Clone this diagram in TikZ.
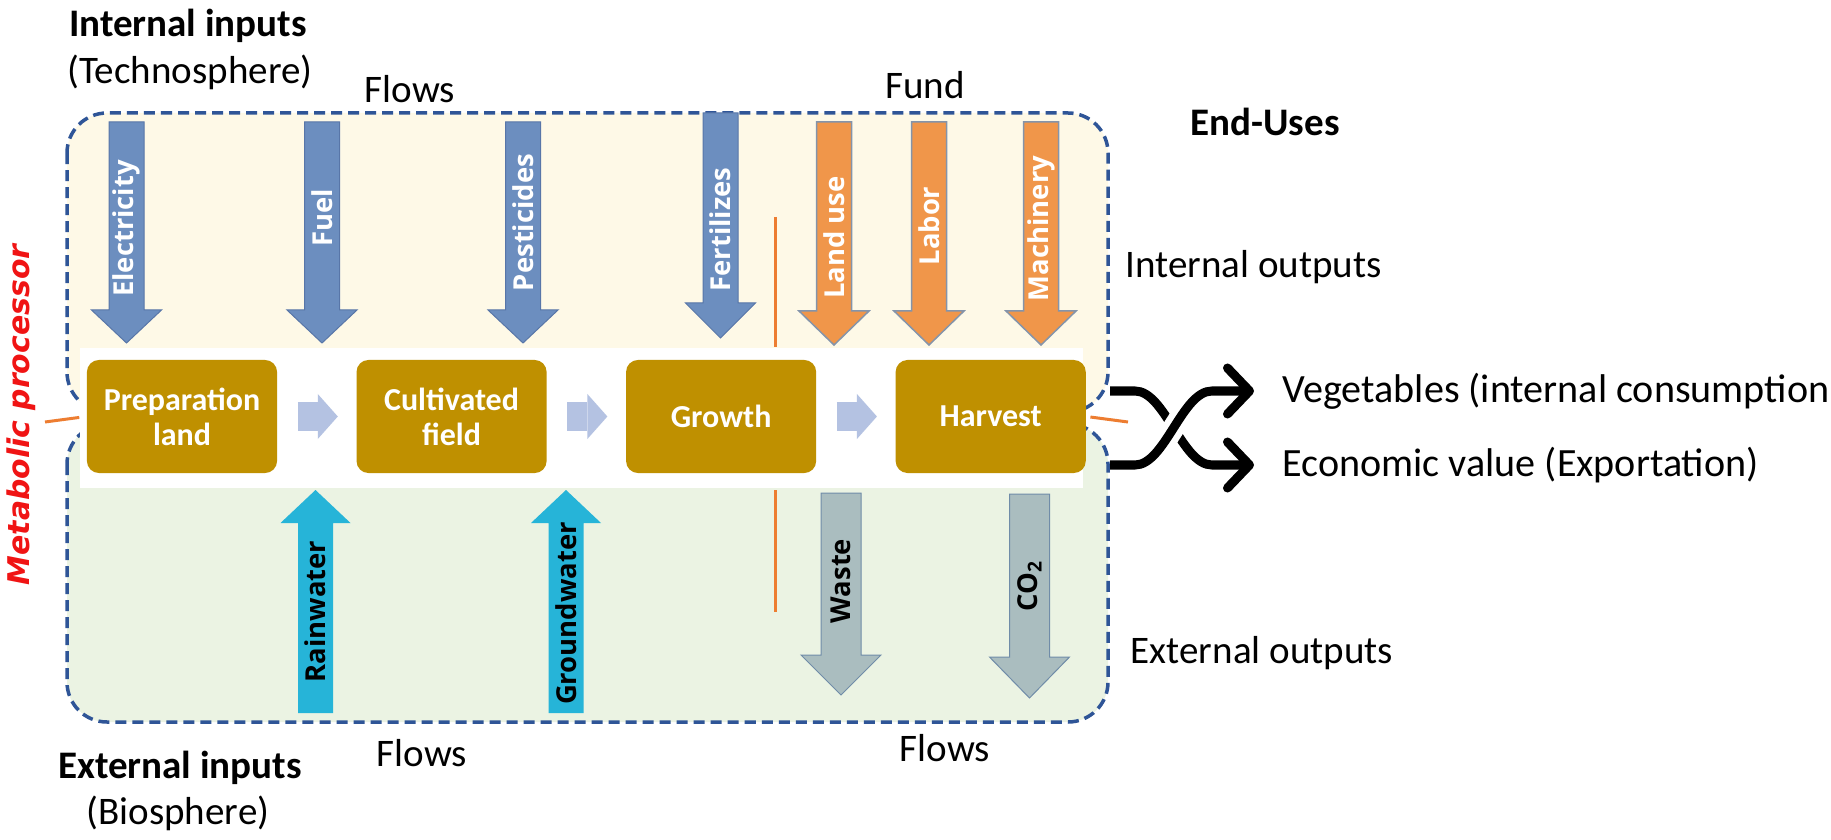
\documentclass[tikz,border=0pt]{standalone}
\usepackage{fontspec}
\setmainfont{Carlito}
\newfontfamily\arrowfont{Open Sans}
\newfontfamily\procfont{DejaVu Sans}
\definecolor{mygold}{RGB}{191,144,0}
\definecolor{mycream}{RGB}{254,249,231}
\definecolor{mylightgreen}{RGB}{235,243,227}
\definecolor{mydash}{RGB}{47,85,151}
\definecolor{myblue}{RGB}{108,142,191}
\definecolor{myblueline}{RGB}{88,118,168}
\definecolor{myorange}{RGB}{240,150,74}
\definecolor{myorangeline}{RGB}{132,148,170}
\definecolor{mycyan}{RGB}{38,180,216}
\definecolor{mygray}{RGB}{170,189,191}
\definecolor{mygrayline}{RGB}{112,140,168}
\definecolor{mystep}{RGB}{180,194,226}
\definecolor{mytick}{RGB}{237,125,49}
\definecolor{myred}{RGB}{240,20,20}
\usetikzlibrary{positioning,chains,arrows.meta}

\begin{document}
\begin{tikzpicture}[x=0.01cm,y=-0.01cm,
        every node/.style={inner sep=0pt},
        procbox/.style={rectangle,rounded corners=0.12cm,fill=mygold,text=white,
            minimum width=1.9cm,minimum height=1.13cm,align=center,
            font=\fontsize{9.1}{10}\selectfont\bfseries},
        lbl/.style={font=\fontsize{11.1}{13}\selectfont},
        lblbold/.style={font=\fontsize{11.1}{13}\selectfont\bfseries},
        uselbl/.style={font=\fontsize{11.4}{13}\selectfont},
        flowtxt/.style={rotate=90,text=white,font=\arrowfont\fontsize{7.8}{9}\selectfont\bfseries},
        border/.style={draw=mydash,line width=0.035cm,dash pattern=on 0.11cm off 0.06cm,rounded corners=0.4cm},
        tick/.style={draw=mytick,line width=0.03cm},
        stepflow/.style={draw=mystep,line width=0.29cm,-{Triangle[length=0.2cm,width=0.45cm,line width=0pt]},
            shorten <=0.2cm,shorten >=0.18cm},
        bluearrow/.style={fill=myblue,draw=myblueline,line width=0.01cm},
        orangearrow/.style={fill=myorange,draw=myorangeline,line width=0.015cm},
        cyanarrow/.style={fill=mycyan},
        grayarrow/.style={fill=mygray,draw=mygrayline,line width=0.01cm},
        enduse/.style={line width=0.09cm,-{Straight Barb[length=0.22cm,width=0.46cm,round]}}
        ]
        \path[use as bounding box,fill=white] (0,0) rectangle (1831,840);

        % the processor: technosphere part and biosphere part
        \draw[border,fill=mycream] (67,113) rectangle (1108,412);
        \draw[border,fill=mylightgreen] (67,424) rectangle (1108,722);
        \fill[white] (80,348) rectangle (1083,488);

        % the stages
        \begin{scope}[start chain=going right,node distance=7.8mm]
        \node[procbox,on chain] (prep) at (182,416.5) {Preparation\\land};
        \node[procbox,on chain] (cult) {Cultivated\\field};
        \node[procbox,on chain] (grow) {Growth};
        \node[procbox,on chain] (harv) {Harvest};
        \end{scope}

        \draw[stepflow] (prep) -- (cult);
        \draw[stepflow] (cult) -- (grow);
        \draw[stepflow] (grow) -- (harv);

        % the borders of the processor
        \coordinate (tickin) at (45,422);
        \coordinate (tickout) at (1128,422);
        \draw[tick,shorten >=0.07cm] (tickin) -- (prep.west);
        \draw[tick,shorten <=0.04cm] (harv.east) -- (tickout);
        \coordinate (fundA) at (775,217);
        \coordinate (fundB) at (775,347);
        \coordinate (fundC) at (775,490);
        \coordinate (fundD) at (775,612);
        \draw[tick] (fundA) -- (fundB);
        \draw[tick] (fundC) -- (fundD);

        % the flows from the technosphere
        \filldraw[bluearrow] (109,122) -- ++(35,0) -- ++(0,188) -- ++(17.5,0) -- ++(-35,33) -- ++(-35,-33) -- ++(17.5,0) -- cycle;
        \filldraw[bluearrow] (304.5,122) -- ++(35,0) -- ++(0,188) -- ++(17.5,0) -- ++(-35,33) -- ++(-35,-33) -- ++(17.5,0) -- cycle;
        \filldraw[bluearrow] (505.5,122) -- ++(35,0) -- ++(0,188) -- ++(17.5,0) -- ++(-35,33) -- ++(-35,-33) -- ++(17.5,0) -- cycle;
        \filldraw[bluearrow] (703,113) -- ++(35,0) -- ++(0,190) -- ++(17.5,0) -- ++(-35,35) -- ++(-35,-35) -- ++(17.5,0) -- cycle;
        \node[flowtxt] (elec) at (126.5,228.5) {Electricity};
        \node[flowtxt] (fuel) at (322,218) {Fuel};
        \node[flowtxt] (pest) at (523,222.5) {Pesticides};
        \node[flowtxt] (fert) at (720.5,229.5) {Fertilizes};

        % the funds
        \filldraw[orangearrow] (816.5,122) -- ++(35,0) -- ++(0,189) -- ++(17.5,0) -- ++(-35,34) -- ++(-35,-34) -- ++(17.5,0) -- cycle;
        \filldraw[orangearrow] (911.5,122) -- ++(35,0) -- ++(0,189) -- ++(17.5,0) -- ++(-35,34) -- ++(-35,-34) -- ++(17.5,0) -- cycle;
        \filldraw[orangearrow] (1023.5,122) -- ++(35,0) -- ++(0,189) -- ++(17.5,0) -- ++(-35,34) -- ++(-35,-34) -- ++(17.5,0) -- cycle;
        \node[flowtxt] (land) at (834,237.5) {Land use};
        \node[flowtxt] (labor) at (929,226) {Labor};
        \node[flowtxt] (mach) at (1041,228.5) {Machinery};

        % the flows from the biosphere
        \fill[cyanarrow] (298,713) -- ++(35,0) -- ++(0,-190) -- ++(17.5,0) -- ++(-35,-33) -- ++(-35,33) -- ++(17.5,0) -- cycle;
        \fill[cyanarrow] (548.5,713) -- ++(35,0) -- ++(0,-190) -- ++(17.5,0) -- ++(-35,-33) -- ++(-35,33) -- ++(17.5,0) -- cycle;
        \node[flowtxt,text=black] (rain) at (315.5,611.5) {Rainwater};
        \node[flowtxt,text=black] (ground) at (566,613.5) {Groundwater};

        % the external outputs
        \filldraw[grayarrow] (821,493) -- ++(40,0) -- ++(0,162) -- ++(20,0) -- ++(-40,40) -- ++(-40,-40) -- ++(20,0) -- cycle;
        \filldraw[grayarrow] (1009.5,494) -- ++(40,0) -- ++(0,163) -- ++(20,0) -- ++(-40,41) -- ++(-40,-41) -- ++(20,0) -- cycle;
        \node[flowtxt,text=black] (waste) at (841,581) {Waste};
        \node[flowtxt,text=black] (co2) at (1029.5,586) {CO\textsubscript{2}};

        % the labels
        \node[rotate=90,text=myred,font=\procfont\bfseries\itshape\fontsize{8.5}{10}\selectfont] (metab) at (21,415) {Metabolic processor};
        \node[lblbold] (intin) at (188,26) {Internal inputs};
        \node[lbl] (techno) at (190,72) {(Technosphere)};
        \node[lbl] (flowin) at (410,89) {Flows};
        \node[lbl] (fund) at (925,85) {Fund};
        \node[lblbold] (enduses) at (1265,122) {End-Uses};
        \node[lbl,anchor=west] (intout) at (1125,267) {Internal outputs};
        \node[lbl,anchor=west] (extout) at (1130,653) {External outputs};
        \node[lbl] (flowext) at (422,753) {Flows};
        \node[lbl] (flowout) at (945,748) {Flows};
        \node[lblbold] (extin) at (180,768) {External inputs};
        \node[lbl] (bios) at (178,813) {(Biosphere)};

        % the end uses
        \coordinate (out1) at (1110,391);
        \coordinate (out2) at (1110,465);
        \node[uselbl,anchor=west] (veg) at (1282,391) {Vegetables (internal consumption};
        \node[uselbl,anchor=west] (eco) at (1282,465) {Economic value (Exportation)};
        \draw[enduse] (out1) -- ++(25,0) .. controls +(30,0) and +(-30,0) .. ([xshift=-0.7cm]eco.west) -- ([xshift=-0.28cm]eco.west);
        \draw[enduse,preaction={draw=white,line width=0.22cm}] (out2) -- ++(25,0) .. controls +(30,0) and +(-30,0) .. ([xshift=-0.7cm]veg.west) -- ([xshift=-0.28cm]veg.west);
\end{tikzpicture}
\end{document}
